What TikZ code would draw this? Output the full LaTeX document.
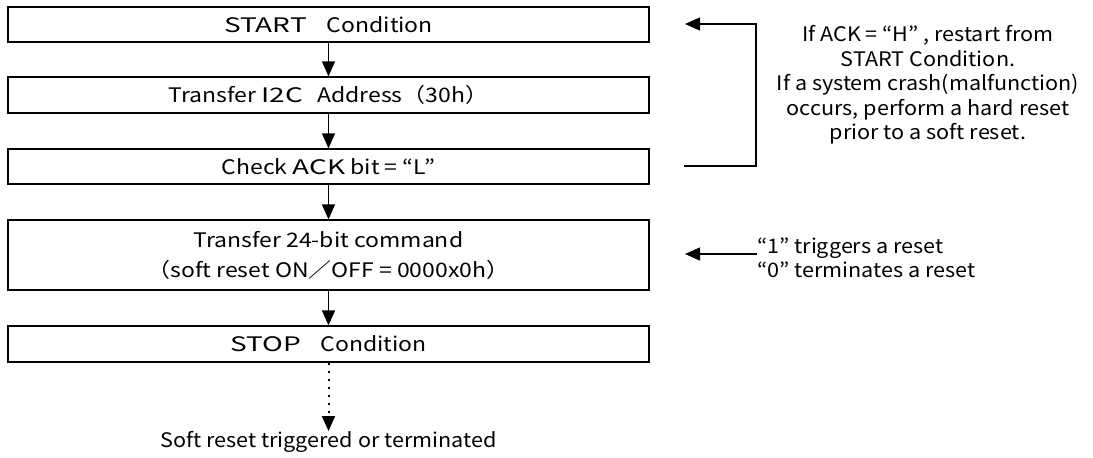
\documentclass[tikz,border=0pt]{standalone}
\usepackage{fontspec}
\setmainfont{Noto Sans CJK JP}
\newfontfamily\boxfont[FakeStretch=1.15]{Noto Sans CJK JP}
\newfontfamily\capsfont[FakeStretch=1.4]{Noto Sans CJK JP}
\newfontfamily\notefont[FakeStretch=1.08]{Noto Sans CJK JP}
\newcommand\wcaps[1]{{\capsfont #1}}
\usetikzlibrary{arrows.meta}
\begin{document}
\begin{tikzpicture}[x=1pt,y=-1pt,
  box/.style={draw, line width=1.3pt, minimum width=641pt, inner sep=0pt, align=center, font=\boxfont\fontsize{20}{30}\selectfont},
  arr/.style={line width=1.3pt, -{Triangle[length=15pt,width=13pt]}},
  dotarr/.style={line width=2pt, dash pattern=on 2pt off 6pt, -{Triangle[length=15pt,width=13pt]}},
  note/.style={font=\notefont\fontsize{20}{24.5}\selectfont, inner sep=0pt}]
\useasboundingbox (0,0) rectangle (1093,458);
\node[box, minimum height=35pt] (start) at (328.5,24.5) {\wcaps{START}\hspace{20pt}Condition};
\node[box, minimum height=36pt] (addr) at (328.5,95) {Transfer \wcaps{I2C}\hspace{14pt}Address（30h）};
\node[box, minimum height=35pt] (ack) at (328.5,166.5) {Check \wcaps{ACK} bit = “L”};
\node[box, minimum height=70pt] (cmd) at (328.5,255) {Transfer 24-bit command\\（soft reset ON／OFF = 0000x0h）};
\node[box, minimum height=36pt] (stop) at (328.5,344) {\wcaps{STOP}\hspace{20pt}Condition};
\node[note, anchor=north, font=\notefont\fontsize{20}{24}\selectfont] (res) at (328.5,431) {Soft reset triggered or terminated};
\draw[arr] (start) -- (addr);
\draw[arr] (addr) -- (ack);
\draw[arr] (ack) -- (cmd);
\draw[arr] (cmd) -- (stop);
\draw[dotarr] (stop) -- (res);
\coordinate (fbA) at (684,166);
\coordinate (fbB) at (756,166);
\coordinate (fbC) at (756,24);
\coordinate (fbD) at (685,24);
\draw[arr] (fbA) -- (fbB) -- (fbC) -- (fbD);
\node[note, align=center] (n1) at (928,85) {If ACK = “H” , restart from\\START Condition.\\If a system crash(malfunction)\\occurs, perform a hard reset\\prior to a soft reset.};
\node[note, align=left, anchor=west] (n2) at (757,258) {“1” triggers a reset\\“0” terminates a reset};
\draw[arr] (n2.west |- 0,254) -- (685,254);
\end{tikzpicture}
\end{document}
